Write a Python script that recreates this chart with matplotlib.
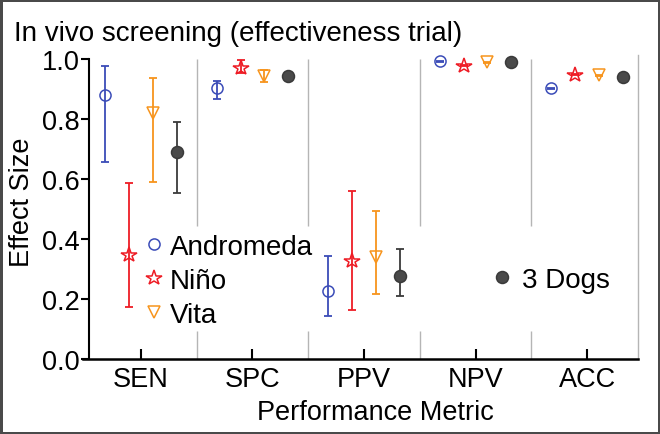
import matplotlib
matplotlib.use("Agg")
import matplotlib.pyplot as plt
from matplotlib.lines import Line2D
import numpy as np

plt.rcParams['font.family'] = ['Liberation Sans', 'DejaVu Sans']

metrics = ["SEN", "SPC", "PPV", "NPV", "ACC"]
series = ["Andromeda", "Niño", "Vita", "3 Dogs"]

# point estimates per series, per metric
andromeda = [0.880, 0.902, 0.228, 0.992, 0.902]
nino      = [0.347, 0.970, 0.328, 0.978, 0.948]
vita      = [0.820, 0.944, 0.339, 0.989, 0.946]
dogs      = [0.689, 0.944, 0.276, 0.989, 0.941]

# lower / upper bounds of the intervals
andromeda_lo = [0.656, 0.867, 0.144, 0.990, 0.900]
andromeda_hi = [0.975, 0.928, 0.344, 0.994, 0.904]
nino_lo      = [0.174, 0.952, 0.164, 0.976, 0.946]
nino_hi      = [0.585, 0.997, 0.561, 0.980, 0.950]
vita_lo      = [0.589, 0.924, 0.216, 0.987, 0.944]
vita_hi      = [0.935, 0.964, 0.494, 0.991, 0.948]
dogs_lo      = [0.553, 0.935, 0.211, 0.987, 0.939]
dogs_hi      = [0.789, 0.953, 0.367, 0.991, 0.943]

yticks = [0.0, 0.2, 0.4, 0.6, 0.8, 1.0]

values = [andromeda, nino, vita, dogs]
lows = [andromeda_lo, nino_lo, vita_lo, dogs_lo]
highs = [andromeda_hi, nino_hi, vita_hi, dogs_hi]

colors = ["#3b4cb8", "#ee1c25", "#f7941d", "#3a3a3a"]
markers = ["o", "*", "v", "o"]
msizes = [8, 11.5, 8, 8.6]
faces = ["none", "none", "none", "#4a4a4a"]
offsets = [-0.32, -0.105, 0.105, 0.32]

W, H = 660, 435
fig = plt.figure(figsize=(W / 100, H / 100), dpi=100)
fig.patch.set_facecolor("white")
fig.patch.set_edgecolor("#4a4a4a")
fig.patch.set_linewidth(2.5)

ax = fig.add_axes([83 / W, 75 / H, (638 - 83) / W, (360 - 56) / H])
ax.set_xlim(-0.520, 4.457)
ax.set_ylim(0, 1.0133)

x = np.arange(len(metrics))
handles = []
for i in range(4):
    v = np.array(values[i])
    lo = v - np.array(lows[i])
    hi = np.array(highs[i]) - v
    ax.errorbar(x + offsets[i], v, yerr=[lo, hi], fmt="none", ecolor=colors[i],
                elinewidth=1.3, capsize=3, capthick=1.3, zorder=3)
    ax.plot(x + offsets[i], v, linestyle="none", marker=markers[i], ms=msizes[i],
            mfc=faces[i], mec=colors[i], mew=1.1, zorder=4)
    handles.append(Line2D([], [], linestyle="none", marker=markers[i], ms=msizes[i],
                          mfc=faces[i], mec=colors[i], mew=1.1, label=series[i]))

# separators between metric groups
sep = x[:-1] + 0.5
ax.vlines(sep, 0.443, 1.0, color="#b5b5b5", lw=1, zorder=1)
ax.vlines(sep, 0.0, 0.093, color="#b5b5b5", lw=1, zorder=1)

ax.spines["top"].set_visible(False)
ax.spines["right"].set_color("#b5b5b5")
ax.spines["right"].set_linewidth(1)
ax.spines["bottom"].set_linewidth(1.8)
ax.spines["left"].set_linewidth(1.5)
ax.spines["left"].set_position(("data", -0.466))
ax.spines["left"].set_bounds(0, 1)

ax.set_xticks(x)
ax.set_xticklabels(metrics, fontsize=19.5)
ax.set_yticks(yticks)
ax.set_yticklabels([f"{t:.1f}" for t in yticks], fontsize=19.5)
ax.tick_params(axis="x", direction="in", length=7.5, width=1.5, pad=5)
ax.tick_params(axis="y", direction="out", length=5.8, width=1.5, pad=1)

ax.set_xlabel("Performance Metric", fontsize=19.5)
ax.xaxis.set_label_coords((375 - 83) / 555, -(420 - 360) / 304)
ax.xaxis.label.set_va("baseline")
ax.set_ylabel("Effect Size", fontsize=19.5)
ax.yaxis.set_label_coords((22 - 83) / 555, (360 - 202) / 304)
ax.yaxis.label.set_va("center")

fig.text(14 / W, 1 - 41 / H, "In vivo screening (effectiveness trial)",
         fontsize=20, ha="left", va="baseline")

leg1 = ax.legend(handles=handles[:3], loc="upper left",
                 bbox_to_anchor=((145.7 - 83) / 555, (435 - 235 - 75) / 304),
                 frameon=False, borderpad=0, handlelength=0.6, handletextpad=0.28,
                 labelspacing=0.28, fontsize=20, borderaxespad=0)
ax.add_artist(leg1)
ax.legend(handles=handles[3:], loc="upper left",
          bbox_to_anchor=((494 - 83) / 555, (435 - 268 - 75) / 304),
          frameon=False, borderpad=0, handlelength=0.6, handletextpad=0.4,
          fontsize=20, borderaxespad=0)

fig.savefig("out.png", dpi=100)
